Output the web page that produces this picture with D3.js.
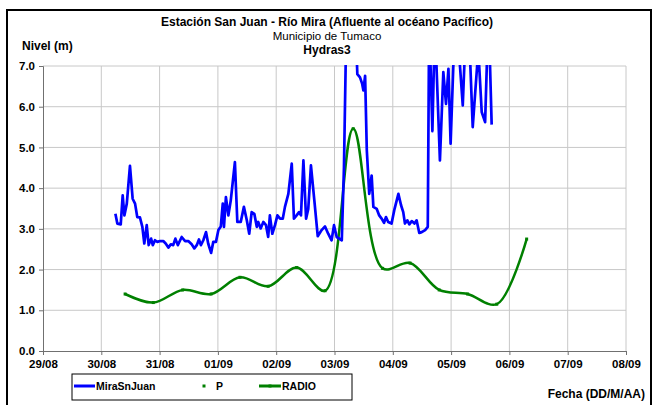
<!DOCTYPE html>
<html>
<head>
<meta charset="utf-8">
<script src="https://cdn.jsdelivr.net/npm/d3@7"></script>
<style>
  body { margin: 0; background: #fff; }
  svg { display: block; font-family: "Liberation Sans", Arial, sans-serif; }
</style>
</head>
<body>
<div id="chart"></div>
<script>
// hours counted from 29/08 00:00
var blueHours = [29.8,30.6,32.0,32.8,33.5,34.5,35.8,36.9,37.9,38.8,39.9,40.9,41.7,42.7,43.5,44.5,45.2,46.1,47.1,48.2,
  49.5,50.5,51.6,52.6,53.6,54.5,55.5,57.1,58.5,59.8,61.2,62.3,63.3,64.2,65.0,66.0,67.1,68.0,69.2,70.1,
  71.2,72.2,73.2,74.0,74.5,75.3,76.3,77.3,79.0,80.0,81.4,82.7,83.9,84.9,85.9,87.0,88.0,88.6,89.6,90.7,
  91.8,92.7,93.4,94.4,95.5,96.5,97.6,98.7,99.6,101.0,102.4,103.3,104.4,105.4,106.2,107.2,108.3,109.2,110.3,111.7,
  113.1,114.7,116.1,117.4,118.8,119.8,120.9,123.0,123.9,124.7,126.0,127.6,129.1,129.4,130.5,131.4,131.9,132.6,133.3,134.3,
  135.3,136.0,137.4,138.4,139.4,140.4,141.2,142.1,143.5,144.6,146.3,147.4,148.3,149.0,150.0,150.8,151.8,152.9,153.8,154.9,
  155.9,157.3,158.4,158.9,159.3,160.3,161.1,161.8,163.4,164.8,165.9,166.9,167.8,169.2,170.2,171.3,172.8,173.7,175.0,175.8,
  176.9,179.2,180.6,182.0,182.9,183.8,184.7];
var blueLevels = [3.37,3.13,3.11,3.82,3.33,3.62,4.55,3.74,3.62,3.29,3.28,3.05,2.64,3.09,2.60,2.76,2.60,2.72,2.68,2.70,
  2.70,2.64,2.54,2.62,2.60,2.76,2.60,2.80,2.70,2.70,2.62,2.52,2.60,2.74,2.60,2.72,2.92,2.64,2.41,2.68,
  2.68,2.97,3.06,3.62,3.05,3.78,3.33,3.70,4.64,3.17,3.17,3.54,3.21,2.88,3.41,3.37,3.05,3.17,3.01,3.17,
  3.09,2.80,3.33,2.88,3.09,3.33,3.25,3.25,3.54,3.86,4.60,3.25,3.33,3.41,3.33,4.68,3.25,3.49,4.56,3.70,
  2.82,2.97,3.06,2.88,2.72,3.09,2.80,2.72,4.52,7.4,8.5,8.5,7.3,6.80,6.72,6.56,6.40,6.76,4.93,3.86,
  4.31,3.54,3.49,3.33,3.25,3.15,3.29,3.17,3.13,3.46,3.86,3.58,3.41,3.13,3.21,3.11,3.19,3.13,3.21,2.90,
  2.92,2.97,3.05,7.5,7.5,5.40,7.5,7.3,4.68,6.85,6.07,6.93,5.09,7.5,7.6,7.3,6.03,7.4,7.6,7.2,
  5.50,7.4,5.87,5.62,7.4,7.5,5.56];

var radioHours = [33.8,45.4,57.5,69.2,81.1,92.7,104.4,116.1,127.7,139.8,151.1,163.1,174.8,186.8,199.1];
var radioLevels = [1.40,1.19,1.50,1.40,1.81,1.59,2.05,1.48,5.46,2.03,2.16,1.50,1.40,1.15,2.75];

var yTicks = [0,1,2,3,4,5,6,7];
var legendNames = ["MiraSnJuan", "P", "RADIO"];

var W = 653, H = 405;
var pl = 43, pr = 626, pt = 66, pb = 351;
var t0 = new Date(2009, 7, 29), t1 = new Date(2009, 8, 8);
function hourDate(h) { return new Date(t0.getTime() + h * 3600000); }

var x = d3.scaleTime().domain([t0, t1]).range([pl, pr]);
var y = d3.scaleLinear().domain([0, 7]).range([pb, pt]);

var svg = d3.select("#chart").append("svg").attr("width", W).attr("height", H);

// outer border
svg.append("rect").attr("x", 7).attr("y", 10).attr("width", 644).attr("height", 410)
  .attr("fill", "none").attr("stroke", "#000").attr("stroke-width", 2);

// grid
var days = d3.timeDay.range(t0, d3.timeDay.offset(t1, 1));
svg.append("g").selectAll("line").data(days.slice(1)).enter().append("line")
  .attr("x1", function(d){ return x(d); }).attr("x2", function(d){ return x(d); })
  .attr("y1", pt).attr("y2", pb).attr("stroke", "#c8c8c8").attr("stroke-width", 1);
svg.append("g").selectAll("line").data(yTicks.slice(1)).enter().append("line")
  .attr("x1", pl).attr("x2", pr)
  .attr("y1", function(d){ return y(d); }).attr("y2", function(d){ return y(d); })
  .attr("stroke", "#c8c8c8").attr("stroke-width", 1);

// axes
var xAxis = svg.append("g").attr("transform", "translate(0," + pb + ")")
  .call(d3.axisBottom(x).ticks(d3.timeDay.every(1)).tickFormat(d3.timeFormat("%d/%m")).tickSizeOuter(0).tickSize(4).tickPadding(5));
var yAxis = svg.append("g").attr("transform", "translate(" + pl + ",0)")
  .call(d3.axisLeft(y).tickValues(yTicks).tickFormat(d3.format(".1f")).tickSizeOuter(0).tickSize(4).tickPadding(4));
[xAxis, yAxis].forEach(function(a){
  a.select(".domain").attr("stroke", "#707070");
  a.selectAll(".tick line").attr("stroke", "#707070");
  a.selectAll("text").attr("font-size", 11.5).attr("font-weight", "bold").attr("fill", "#000")
    .attr("font-family", "Liberation Sans, Arial, sans-serif");
});

// clip
svg.append("clipPath").attr("id", "plotclip").append("rect")
  .attr("x", pl).attr("y", pt - 1).attr("width", pr - pl).attr("height", pb - pt + 1);

var blueData = blueHours.map(function(h, i){ return {t: hourDate(h), v: blueLevels[i]}; });
var radioData = radioHours.map(function(h, i){ return {t: hourDate(h), v: radioLevels[i]}; });

svg.append("path").datum(radioData)
  .attr("clip-path", "url(#plotclip)")
  .attr("fill", "none").attr("stroke", "#008000").attr("stroke-width", 2.5)
  .attr("d", d3.line().x(function(d){ return x(d.t); }).y(function(d){ return y(d.v); }).curve(d3.curveCatmullRom.alpha(0.5)));
svg.append("g").selectAll("rect").data(radioData).enter().append("rect")
  .attr("x", function(d){ return x(d.t) - 1.5; }).attr("y", function(d){ return y(d.v) - 1.5; })
  .attr("width", 3).attr("height", 3).attr("fill", "#008000");

svg.append("path").datum(blueData)
  .attr("clip-path", "url(#plotclip)")
  .attr("fill", "none").attr("stroke", "#0000ff").attr("stroke-width", 2.7).attr("stroke-linejoin", "round")
  .attr("d", d3.line().x(function(d){ return x(d.t); }).y(function(d){ return y(d.v); }));

// titles
function txt(s, xx, yy, opts) {
  opts = opts || {};
  return svg.append("text").attr("x", xx).attr("y", yy).text(s)
    .attr("font-size", opts.size || 11).attr("font-weight", opts.bold ? "bold" : "normal")
    .attr("text-anchor", opts.anchor || "middle").attr("fill", "#000");
}
txt("Estación San Juan  - Río Mira (Afluente al océano Pacífico)", 327, 26, {bold: true, size: 12});
txt("Municipio de Tumaco", 327, 40, {size: 11.5});
txt("Hydras3", 327, 54, {bold: true, size: 12});
txt("Nivel (m)", 22, 50, {bold: true, size: 12, anchor: "start"});
txt("Fecha (DD/M/AA)", 645, 398, {bold: true, size: 12, anchor: "end"});

// legend
var lg = svg.append("g");
lg.append("rect").attr("x", 72).attr("y", 374).attr("width", 280).attr("height", 26)
  .attr("fill", "#fff").attr("stroke", "#000").attr("stroke-width", 1);
lg.append("line").attr("x1", 74).attr("x2", 95).attr("y1", 386).attr("y2", 386)
  .attr("stroke", "#0000ff").attr("stroke-width", 3);
lg.append("rect").attr("x", 202.5).attr("y", 384.5).attr("width", 3).attr("height", 3).attr("fill", "#008000");
lg.append("line").attr("x1", 259).attr("x2", 281).attr("y1", 386).attr("y2", 386)
  .attr("stroke", "#008000").attr("stroke-width", 3);
lg.append("rect").attr("x", 268.5).attr("y", 384.5).attr("width", 3).attr("height", 3).attr("fill", "#008000");
var legX = [96, 216, 282];
legendNames.forEach(function(n, i){
  lg.append("text").attr("x", legX[i]).attr("y", 390).text(n)
    .attr("font-size", 10.5).attr("font-weight", "bold").attr("fill", "#000");
});
</script>
</body>
</html>
